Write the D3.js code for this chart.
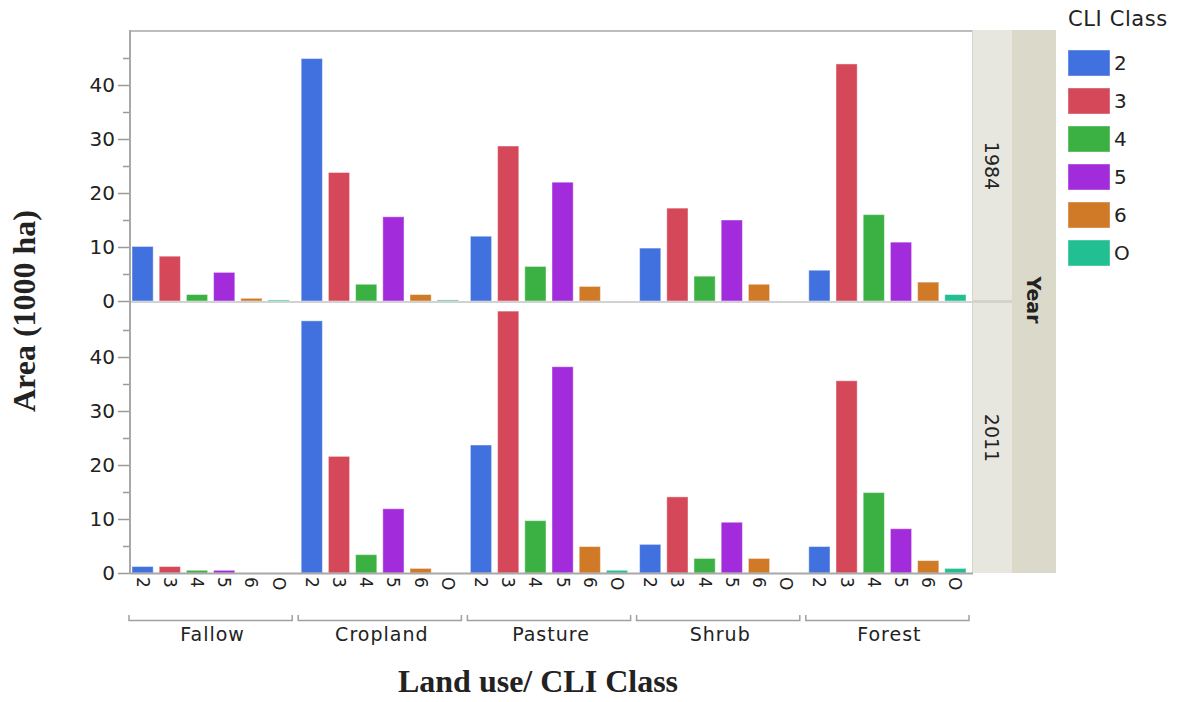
<!DOCTYPE html>
<html lang="en">
<head>
    <meta charset="UTF-8">
    <title>Area by Land use and CLI Class</title>
    <script src="https://d3js.org/d3.v7.min.js"></script>
    <style>
        body { margin: 0; background: #fff; }
        text { font-family: "DejaVu Sans", sans-serif; fill: #222; }
    </style>
</head>
<body>
    <svg id="chart" width="1183" height="702"></svg>

    <script>
        // Data (area in 1000 ha)
        const landUses = ["Fallow", "Cropland", "Pasture", "Shrub", "Forest"];
        const cliClasses = ["2", "3", "4", "5", "6", "O"];
        const years = ["1984", "2011"];

        // one row per land use, values in cliClasses order
        const values1984 = [
            [10.1, 8.3, 1.2, 5.3, 0.5, 0.2],
            [44.9, 23.8, 3.1, 15.6, 1.2, 0.2],
            [12.0, 28.7, 6.4, 22.0, 2.7, 0],
            [9.8, 17.2, 4.6, 15.0, 3.1, 0],
            [5.7, 43.9, 16.0, 10.9, 3.5, 1.2]
        ];
        const values2011 = [
            [1.2, 1.2, 0.5, 0.5, 0, 0],
            [46.7, 21.6, 3.4, 11.9, 0.85, 0],
            [23.7, 48.5, 9.7, 38.2, 4.9, 0.5],
            [5.3, 14.1, 2.7, 9.4, 2.7, 0],
            [4.9, 35.6, 14.9, 8.2, 2.3, 0.85]
        ];
        const majorTicks = [0, 10, 20, 30, 40];
        const minorTicks = [5, 15, 25, 35, 45];
        const classColors = ["#4171de", "#d54859", "#3bb143", "#a22bdc", "#d07a28", "#22bf92"];

        const svg = d3.select("#chart");

        // plot area
        const left = 130, right = 972;
        const panels = [
            { year: years[0], values: values1984, top: 31, bottom: 301 },
            { year: years[1], values: values2011, top: 303, bottom: 573 }
        ];

        const color = d3.scaleOrdinal().domain(cliClasses).range(classColors);

        const x0 = d3.scaleBand()
            .domain(landUses)
            .range([126, right]);

        const x1 = d3.scaleBand()
            .domain(cliClasses)
            .range([0, x0.bandwidth()])
            .padding(0.22);

        svg.append("clipPath").attr("id", "plotclip")
            .append("rect")
            .attr("x", left + 1).attr("y", 0)
            .attr("width", right - left).attr("height", 702);

        // strips on the right
        svg.append("rect").attr("x", right).attr("y", 30)
            .attr("width", 40).attr("height", 543).attr("fill", "#e8e7df");
        svg.append("rect").attr("x", right + 40).attr("y", 30)
            .attr("width", 44).attr("height", 543).attr("fill", "#dbd9ca");
        svg.append("rect").attr("x", right).attr("y", 300)
            .attr("width", 40).attr("height", 3).attr("fill", "#d4d3ca");
        svg.append("line")
            .attr("x1", right + 0.5).attr("x2", right + 0.5)
            .attr("y1", 30).attr("y2", 573)
            .attr("stroke", "#d6d5cc");

        panels.forEach(p => {
            const y = d3.scaleLinear().domain([0, 50]).range([p.bottom, p.top]);

            // bars
            const rows = [];
            landUses.forEach((lu, i) => {
                cliClasses.forEach((c, j) => {
                    rows.push({ lu: lu, cls: c, v: p.values[i][j] });
                });
            });

            svg.append("g")
                .attr("clip-path", "url(#plotclip)")
                .selectAll("rect")
                .data(rows.filter(d => d.v > 0))
                .enter().append("rect")
                .attr("x", d => x0(d.lu) + x1(d.cls))
                .attr("y", d => y(d.v))
                .attr("width", x1.bandwidth())
                .attr("height", d => y(0) - y(d.v))
                .attr("fill", d => color(d.cls))
                .attr("stroke", "#ffffff")
                .attr("stroke-opacity", 0.45)
                .attr("stroke-width", 1);

            // y axis, major ticks with labels
            const yAxis = svg.append("g")
                .attr("transform", "translate(" + left + ",0)")
                .call(d3.axisLeft(y).tickValues(majorTicks).tickSize(12).tickPadding(3));
            yAxis.select(".domain").remove();
            yAxis.selectAll("line").attr("stroke", "#9a9a9a").attr("stroke-width", 1.5);
            yAxis.selectAll("text").style("font-size", "20px").attr("fill", "#222");

            // minor ticks
            const yMinor = svg.append("g")
                .attr("transform", "translate(" + left + ",0)")
                .call(d3.axisLeft(y).tickValues(minorTicks).tickSize(7).tickFormat(""));
            yMinor.select(".domain").remove();
            yMinor.selectAll("line").attr("stroke", "#9a9a9a").attr("stroke-width", 1.5);

            // year strip label
            svg.append("text")
                .attr("transform", "translate(" + (right + 13) + "," + ((p.top + p.bottom) / 2) + ") rotate(90)")
                .attr("text-anchor", "middle")
                .style("font-size", "19px")
                .text(p.year);
        });

        // frame lines
        svg.append("line")
            .attr("x1", left).attr("x2", right).attr("y1", 31).attr("y2", 31)
            .attr("stroke", "#bdbdbd").attr("stroke-width", 2);
        svg.append("line")
            .attr("x1", left).attr("x2", right).attr("y1", 302).attr("y2", 302)
            .attr("stroke", "#d2d2d2").attr("stroke-width", 2);
        svg.append("line")
            .attr("x1", left).attr("x2", right + 1).attr("y1", 573.5).attr("y2", 573.5)
            .attr("stroke", "#a8a8a8").attr("stroke-width", 2);
        svg.append("line")
            .attr("x1", left).attr("x2", left).attr("y1", 30).attr("y2", 574)
            .attr("stroke", "#a8a8a8").attr("stroke-width", 2);

        // "Year" strip title
        svg.append("text")
            .attr("transform", "translate(" + (right + 55) + ",300) rotate(90)")
            .attr("text-anchor", "middle")
            .style("font-size", "19px")
            .style("font-weight", "bold")
            .text("Year");

        // x tick labels (class, rotated)
        const xLabels = [];
        landUses.forEach(lu => cliClasses.forEach(c => xLabels.push({ lu: lu, cls: c })));
        svg.append("g").selectAll("text")
            .data(xLabels)
            .enter().append("text")
            .attr("transform", d => "translate(" + (x0(d.lu) + x1(d.cls) + x1.bandwidth() / 2) + ",577) rotate(90)")
            .attr("dy", "0.35em")
            .style("font-size", "17px")
            .text(d => d.cls);

        // group brackets and labels
        const groups = svg.append("g").selectAll("g")
            .data(landUses)
            .enter().append("g");
        groups.append("path")
            .attr("d", d => {
                const a = Math.max(x0(d) + 3, left - 1), b = x0(d) + x0.bandwidth() - 3;
                return "M" + a + ",615V620.5H" + b + "V615";
            })
            .attr("fill", "none")
            .attr("stroke", "#a0a0a0")
            .attr("stroke-width", 1.5);
        groups.append("text")
            .attr("x", d => x0(d) + x0.bandwidth() / 2 + 2)
            .attr("y", 641)
            .attr("text-anchor", "middle")
            .style("font-size", "19px")
            .style("letter-spacing", "1px")
            .text(d => d);

        // axis titles
        svg.append("text")
            .attr("x", 538).attr("y", 692)
            .attr("text-anchor", "middle")
            .style("font-family", "'Liberation Serif', 'Times New Roman', serif")
            .style("font-weight", "bold")
            .style("font-size", "32px")
            .attr("fill", "#000")
            .text("Land use/ CLI Class");

        svg.append("text")
            .attr("transform", "translate(35,311) rotate(-90)")
            .attr("text-anchor", "middle")
            .style("font-family", "'Liberation Serif', 'Times New Roman', serif")
            .style("font-weight", "bold")
            .style("font-size", "32px")
            .attr("fill", "#000")
            .text("Area (1000 ha)");

        // legend
        const legend = svg.append("g").attr("transform", "translate(1068,0)");
        legend.append("text")
            .attr("x", 0).attr("y", 26)
            .style("font-size", "21px")
            .style("letter-spacing", "0.6px")
            .text("CLI Class");
        const items = legend.selectAll(".item")
            .data(cliClasses)
            .enter().append("g")
            .attr("class", "item")
            .attr("transform", (d, i) => "translate(0," + (50 + i * 38) + ")");
        items.append("rect")
            .attr("width", 42).attr("height", 26)
            .attr("fill", d => color(d))
            .attr("stroke", "#ffffff").attr("stroke-opacity", 0.4);
        items.append("text")
            .attr("x", 46).attr("y", 13)
            .attr("dy", "0.36em")
            .style("font-size", "20px")
            .text(d => d);
    </script>
</body>
</html>
